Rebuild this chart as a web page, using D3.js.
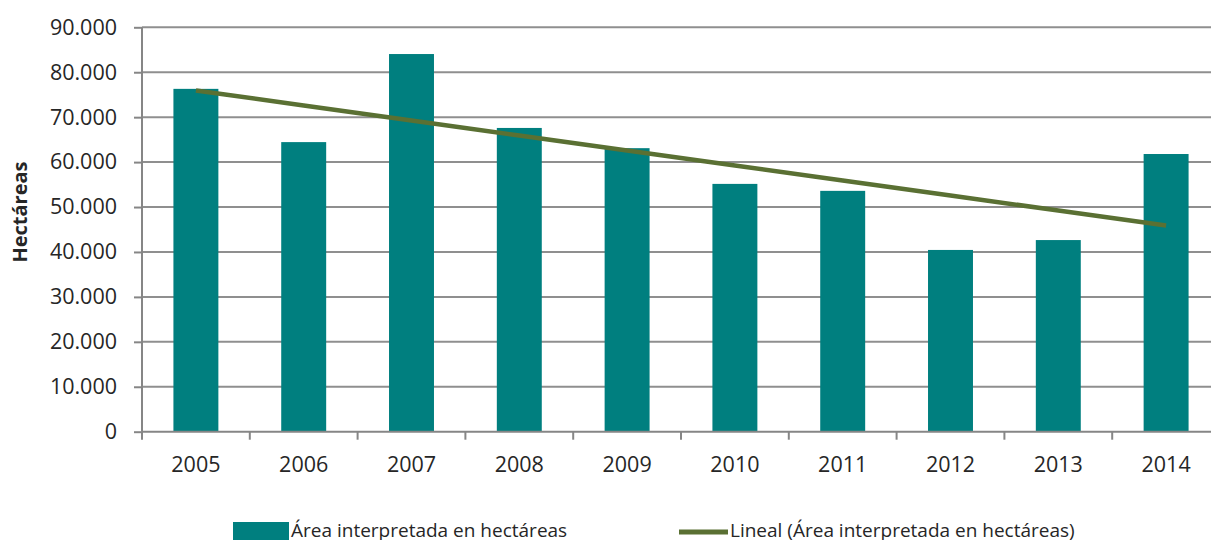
<!DOCTYPE html>
<html>
<head>
<meta charset="utf-8">
<script src="https://cdn.jsdelivr.net/npm/d3@7"></script>
<style>
  html, body { margin: 0; padding: 0; background: #fff; }
  svg { display: block; }
  text { font-family: "Open Sans", "Noto Sans", sans-serif; fill: #262626; }
</style>
</head>
<body>
<svg id="chart" width="1211" height="540"></svg>
<script>
// Área interpretada por año (hectáreas)
const years = ["2005", "2006", "2007", "2008", "2009", "2010", "2011", "2012", "2013", "2014"];
const area = [76300, 64450, 84050, 67600, 63100, 55150, 53600, 40450, 42650, 61800];
const yTicks = [0, 10000, 20000, 30000, 40000, 50000, 60000, 70000, 80000, 90000];
const seriesName = "Área interpretada en hectáreas";
const trendName = "Lineal (Área interpretada en hectáreas)";
const yTitle = "Hectáreas";

const barColor = "#007f7f";
const trendColor = "#5a7033";
const gridColor = "#8f8f8f";

const svg = d3.select("#chart");
const plotLeft = 142, plotRight = 1220, plotTop = 27.3, plotBottom = 431.7;

const x = d3.scaleBand().domain(years).range([plotLeft, plotRight]).paddingInner(0.583).paddingOuter(0.2915);
const xBand = d3.scaleBand().domain(years).range([plotLeft, plotRight]);
const y = d3.scaleLinear().domain([0, 90000]).range([plotBottom, plotTop]);

// horizontal gridlines
svg.append("g")
  .selectAll("line")
  .data(yTicks.filter(d => d > 0))
  .join("line")
  .attr("x1", plotLeft).attr("x2", plotRight)
  .attr("y1", d => y(d)).attr("y2", d => y(d))
  .attr("stroke", gridColor).attr("stroke-width", 2);

// bars
svg.append("g")
  .selectAll("rect")
  .data(years.map((yr, i) => ({ yr, v: area[i] })))
  .join("rect")
  .attr("x", d => x(d.yr))
  .attr("width", x.bandwidth())
  .attr("y", d => y(d.v))
  .attr("height", d => plotBottom - y(d.v))
  .attr("fill", barColor);

// y axis
const yAxis = d3.axisLeft(y)
  .tickValues(yTicks)
  .tickSize(8)
  .tickPadding(17)
  .tickFormat(d => d === 0 ? "0" : d3.format(",")(d).replace(/,/g, "."));
const gy = svg.append("g").attr("transform", `translate(${plotLeft},0)`).call(yAxis);
gy.select(".domain").attr("stroke", "#868686").attr("stroke-width", 2).attr("d", `M0,${plotTop}V${plotBottom}`);
gy.selectAll(".tick line").attr("stroke", "#868686").attr("stroke-width", 2);
gy.selectAll(".tick text").attr("font-size", 21.5).attr("fill", "#262626")
  .attr("font-family", "'Open Sans', sans-serif");

// x axis: ticks on band boundaries, labels at band centres
const gx = svg.append("g");
gx.append("line")
  .attr("x1", plotLeft).attr("x2", plotRight)
  .attr("y1", plotBottom).attr("y2", plotBottom)
  .attr("stroke", "#868686").attr("stroke-width", 2);
gx.selectAll("line.tk")
  .data(years)
  .join("line")
  .attr("class", "tk")
  .attr("x1", d => xBand(d)).attr("x2", d => xBand(d))
  .attr("y1", plotBottom).attr("y2", plotBottom + 8)
  .attr("stroke", "#868686").attr("stroke-width", 2);
gx.selectAll("text")
  .data(years)
  .join("text")
  .attr("x", d => xBand(d) + xBand.bandwidth() / 2)
  .attr("y", 472)
  .attr("text-anchor", "middle")
  .attr("font-size", 21.5)
  .text(d => d);

// linear trend (least squares over the yearly values)
const n = area.length;
const xs = d3.range(1, n + 1);
const mx = d3.mean(xs), my = d3.mean(area);
const slope = d3.sum(xs, (xi, i) => (xi - mx) * (area[i] - my)) / d3.sum(xs, xi => (xi - mx) ** 2);
const icpt = my - slope * mx;
const trend = xs.map((xi, i) => ({ yr: years[i], v: icpt + slope * xi }));
svg.append("path")
  .datum(trend)
  .attr("fill", "none")
  .attr("stroke", trendColor)
  .attr("stroke-width", 4.5)
  .attr("d", d3.line().x(d => xBand(d.yr) + xBand.bandwidth() / 2).y(d => y(d.v)));

// y axis title
svg.append("text")
  .attr("transform", "translate(27,212) rotate(-90)")
  .attr("text-anchor", "middle")
  .attr("font-size", 20)
  .attr("font-weight", "bold")
  .text(yTitle);

// legend
const lg = svg.append("g");
lg.append("rect").attr("x", 233).attr("y", 522).attr("width", 56).attr("height", 20).attr("fill", barColor);
lg.append("text").attr("x", 291).attr("y", 537).attr("font-size", 19).text(seriesName);
lg.append("line").attr("x1", 679).attr("x2", 728).attr("y1", 532).attr("y2", 532)
  .attr("stroke", trendColor).attr("stroke-width", 5);
lg.append("text").attr("x", 730).attr("y", 537).attr("font-size", 19).text(trendName);
</script>
</body>
</html>
